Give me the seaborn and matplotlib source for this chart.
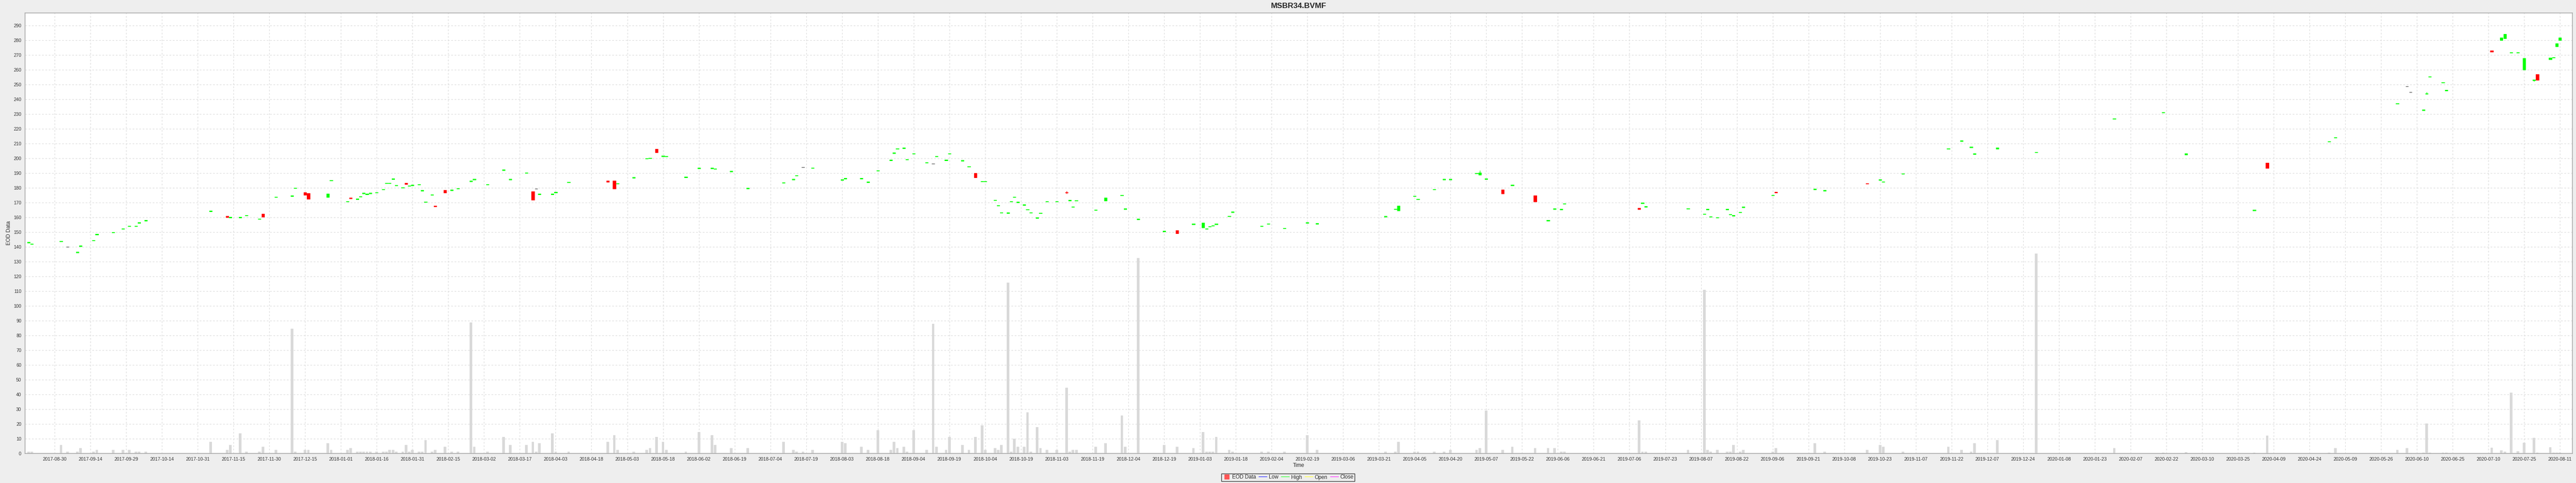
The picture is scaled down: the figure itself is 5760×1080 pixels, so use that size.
import numpy as np
import pandas as pd
import matplotlib
matplotlib.use("Agg")
import matplotlib.pyplot as plt
import seaborn as sns
from matplotlib.lines import Line2D

# ---- data: trading-day number (weekdays since 2017-08-30), OHLC, volume ----
day = [-8, -7, 2, 4, 7, 8, 12, 13, 18, 21, 23, 25, 26, 28, 48, 53, 54, 57, 59, 63,
       64, 68, 73, 74, 77, 78, 84, 85, 90, 91, 93, 94, 95, 96, 97, 99, 101, 102, 103, 104,
       105, 107, 108, 109, 110, 112, 113, 114, 116, 117, 120, 122, 124, 128, 129, 133, 138, 140, 145, 147,
       148, 149, 153, 154, 158, 170, 172, 173, 178, 182, 183, 185, 187, 188, 194, 198, 202, 203, 208, 213,
       224, 227, 228, 230, 233, 242, 243, 248, 250, 253, 257, 258, 259, 261, 262, 264, 268, 270, 271, 274,
       275, 279, 281, 283, 285, 286, 289, 290, 291, 293, 294, 295, 296, 298, 299, 300, 302, 303, 305, 308,
       311, 312, 313, 314, 320, 323, 328, 329, 333, 341, 345, 350, 353, 354, 355, 356, 357, 361, 362, 371,
       373, 378, 385, 388, 409, 412, 413, 418, 419, 424, 427, 429, 437, 438, 440, 445, 448, 455, 459, 461,
       463, 464, 487, 488, 489, 502, 507, 508, 509, 511, 514, 515, 516, 518, 519, 528, 529, 541, 544, 557,
       561, 562, 568, 582, 586, 589, 590, 597, 609, 633, 648, 655, 676, 680, 699, 701, 720, 723, 724, 728,
       729, 730, 734, 735, 749, 752, 753, 755, 757, 759, 762, 763, 767, 768, 769, 770]

open_ = [142.7, 141.7, 143.4, 139.8, 136.1, 140.3, 144.0, 148.2, 149.5, 152.0, 153.8, 153.8, 156.0, 157.5, 163.9, 160.9, 159.7, 159.7, 161.0, 158.6,
         162.3, 173.4, 174.2, 179.6, 176.9, 176.3, 173.6, 184.7, 170.4, 173.0, 172.1, 173.8, 176.1, 175.5, 176.1, 176.5, 178.6, 182.8, 182.8, 185.7,
         181.3, 179.8, 183.2, 181.1, 181.5, 181.9, 177.9, 170.2, 175.0, 167.5, 178.5, 178.2, 179.2, 184.2, 185.5, 181.9, 191.8, 185.5, 189.9, 177.5,
         179.2, 175.5, 175.5, 176.7, 183.4, 184.9, 184.9, 182.5, 186.7, 199.5, 199.9, 206.2, 201.2, 201.0, 187.0, 193.0, 193.0, 192.6, 190.9, 179.4,
         183.2, 185.5, 188.0, 193.8, 193.2, 185.1, 186.1, 186.1, 183.6, 191.4, 198.5, 203.3, 206.2, 206.7, 198.9, 202.9, 196.8, 196.4, 201.0, 198.5,
         202.9, 198.1, 194.1, 189.9, 184.0, 184.0, 171.3, 167.7, 162.9, 162.7, 170.4, 173.4, 170.0, 168.1, 165.0, 162.9, 159.4, 162.5, 170.4, 170.4,
         177.0, 171.2, 166.8, 171.0, 164.7, 171.0, 174.6, 165.4, 158.5, 150.3, 151.1, 155.1, 153.0, 152.0, 153.5, 154.1, 155.1, 160.4, 163.3, 153.7,
         155.3, 152.2, 156.1, 155.5, 160.3, 165.3, 164.3, 174.0, 171.9, 178.6, 185.5, 185.5, 189.5, 188.6, 185.7, 178.6, 181.5, 174.8, 157.6, 165.4,
         165.2, 168.9, 166.4, 169.3, 167.0, 165.6, 162.0, 165.1, 160.1, 159.5, 165.1, 161.6, 160.7, 163.1, 166.6, 174.6, 177.3, 178.8, 177.8, 182.9,
         185.1, 183.7, 189.2, 206.2, 211.5, 207.3, 202.7, 206.2, 203.8, 226.5, 230.7, 202.2, 164.5, 197.0, 211.0, 213.8, 236.8, 248.7, 244.7, 232.4,
         243.5, 255.0, 251.0, 245.8, 272.8, 279.9, 281.0, 271.4, 271.4, 259.8, 252.7, 256.9, 266.8, 268.0, 275.6, 279.9]

close = [143.1, 142.1, 143.8, 139.8, 136.5, 140.7, 144.4, 148.6, 149.9, 152.4, 154.2, 154.2, 156.4, 157.9, 164.3, 160.0, 160.1, 160.1, 161.4, 159.0,
         160.1, 173.8, 174.6, 180.0, 175.2, 172.4, 176.1, 185.1, 170.8, 172.7, 172.5, 174.2, 176.5, 175.9, 176.5, 176.9, 179.0, 183.2, 183.2, 186.1,
         181.7, 180.2, 182.4, 181.5, 181.9, 182.3, 178.3, 170.6, 175.4, 167.2, 176.6, 178.6, 179.6, 184.6, 185.9, 182.3, 192.2, 185.9, 190.3, 171.6,
         179.2, 175.9, 175.9, 177.1, 183.8, 183.8, 179.4, 182.9, 187.1, 199.9, 200.3, 203.9, 201.6, 201.4, 187.4, 193.4, 193.4, 193.0, 191.3, 179.8,
         183.6, 185.9, 188.4, 193.8, 193.6, 185.5, 186.5, 186.5, 184.0, 191.8, 198.9, 203.7, 206.6, 207.1, 199.3, 203.3, 197.2, 196.4, 201.4, 198.9,
         203.3, 198.5, 194.5, 187.0, 184.4, 184.4, 171.7, 168.1, 163.3, 163.1, 170.8, 173.8, 170.4, 168.5, 165.4, 163.3, 159.8, 162.9, 170.8, 170.8,
         176.5, 171.6, 167.2, 171.4, 165.1, 173.1, 175.0, 165.8, 158.9, 150.7, 149.0, 155.5, 156.2, 152.4, 153.9, 154.5, 155.5, 160.8, 163.7, 154.1,
         155.7, 152.6, 156.5, 155.9, 160.7, 165.7, 167.8, 174.4, 172.3, 179.0, 185.9, 185.9, 189.9, 190.3, 186.1, 176.1, 181.9, 170.6, 158.0, 165.8,
         165.6, 169.3, 165.3, 169.7, 167.4, 166.0, 162.4, 165.5, 160.5, 159.9, 165.5, 162.0, 161.3, 163.5, 167.0, 175.0, 176.7, 179.2, 178.2, 182.5,
         185.5, 184.1, 189.6, 206.6, 211.9, 207.7, 203.1, 207.3, 204.2, 226.9, 231.1, 203.1, 164.9, 193.2, 211.4, 214.2, 237.2, 248.7, 244.7, 232.8,
         243.9, 255.4, 251.4, 246.2, 271.9, 281.6, 284.3, 271.8, 271.8, 267.8, 253.1, 252.9, 268.2, 268.4, 277.7, 281.6]

high = [143.1, 142.1, 143.8, 139.8, 136.5, 140.7, 144.4, 148.6, 149.9, 152.4, 154.2, 154.2, 156.4, 157.9, 164.3, 160.9, 160.1, 160.1, 161.4, 159.0,
        162.3, 173.8, 174.6, 180.0, 176.9, 176.3, 176.1, 185.1, 170.8, 173.0, 172.5, 174.2, 176.5, 175.9, 176.5, 176.9, 179.0, 183.2, 183.2, 186.1,
        181.7, 180.2, 183.2, 181.5, 181.9, 182.3, 178.3, 170.6, 175.4, 167.5, 178.5, 178.6, 179.6, 184.6, 185.9, 182.3, 192.2, 185.9, 190.3, 177.5,
        179.2, 175.9, 175.9, 177.1, 183.8, 184.9, 184.9, 182.9, 187.1, 199.9, 200.3, 206.2, 201.6, 201.4, 187.4, 193.4, 193.4, 193.0, 191.3, 179.8,
        183.6, 185.9, 188.4, 193.8, 193.6, 185.5, 186.5, 186.5, 184.0, 191.8, 198.9, 203.7, 206.6, 207.1, 199.3, 203.3, 197.2, 196.4, 201.4, 198.9,
        203.3, 198.5, 194.5, 189.9, 184.4, 184.4, 171.7, 168.1, 163.3, 163.1, 170.8, 173.8, 170.4, 168.5, 165.4, 163.3, 159.8, 162.9, 170.8, 170.8,
        177.7, 171.6, 167.2, 171.4, 165.1, 173.1, 175.0, 165.8, 158.9, 150.7, 151.1, 155.5, 156.2, 152.4, 153.9, 154.5, 155.5, 160.8, 163.7, 154.1,
        155.7, 152.6, 156.5, 155.9, 160.7, 165.7, 167.8, 174.4, 172.3, 179.0, 185.9, 185.9, 189.9, 191.6, 186.1, 178.6, 181.9, 174.8, 158.0, 165.8,
        165.6, 169.3, 166.4, 169.7, 167.4, 166.0, 162.4, 165.5, 160.5, 159.9, 165.5, 162.0, 161.3, 163.5, 167.0, 175.0, 177.3, 179.2, 178.2, 182.9,
        185.5, 184.1, 189.6, 206.6, 211.9, 207.7, 203.1, 207.3, 204.2, 226.9, 231.1, 203.1, 164.9, 197.0, 211.4, 214.2, 237.2, 248.7, 244.7, 232.8,
        244.7, 255.4, 251.4, 246.2, 272.8, 281.6, 284.3, 271.8, 271.8, 267.8, 253.1, 256.9, 268.2, 268.4, 277.7, 281.6]

low = [142.7, 141.7, 143.4, 139.8, 136.1, 140.3, 144.0, 148.2, 149.5, 152.0, 153.8, 153.8, 156.0, 157.5, 163.9, 160.0, 159.7, 159.7, 161.0, 158.6,
       160.1, 173.4, 174.2, 179.6, 175.2, 172.4, 173.6, 184.7, 170.4, 172.7, 172.1, 173.8, 176.1, 175.5, 176.1, 176.5, 178.6, 182.8, 182.8, 185.7,
       181.3, 179.8, 182.4, 181.1, 181.5, 181.9, 177.9, 170.2, 175.0, 167.2, 176.6, 178.2, 179.2, 184.2, 185.5, 181.9, 191.8, 185.5, 189.9, 171.6,
       179.2, 175.5, 175.5, 176.7, 183.4, 183.8, 179.4, 182.5, 186.7, 199.5, 199.9, 203.9, 201.2, 201.0, 187.0, 193.0, 193.0, 192.6, 190.9, 179.4,
       183.2, 185.5, 188.0, 193.8, 193.2, 185.1, 186.1, 186.1, 183.6, 191.4, 198.5, 203.3, 206.2, 206.7, 198.9, 202.9, 196.8, 196.4, 201.0, 198.5,
       202.9, 198.1, 194.1, 187.0, 184.0, 184.0, 171.3, 167.7, 162.9, 162.7, 170.4, 173.4, 170.0, 168.1, 165.0, 162.9, 159.4, 162.5, 170.4, 170.4,
       176.1, 171.2, 166.8, 171.0, 164.7, 171.0, 174.6, 165.4, 158.5, 150.3, 149.0, 155.1, 153.0, 152.0, 153.5, 154.1, 155.1, 160.4, 163.3, 153.7,
       155.3, 152.2, 156.1, 155.5, 160.3, 165.3, 164.3, 174.0, 171.9, 178.6, 185.5, 185.5, 189.5, 188.6, 185.7, 176.1, 181.5, 170.6, 157.6, 165.4,
       165.2, 168.9, 165.3, 169.3, 167.0, 165.6, 162.0, 165.1, 160.1, 159.5, 165.1, 161.6, 160.7, 163.1, 166.6, 174.6, 176.7, 178.8, 177.8, 182.5,
       185.1, 183.7, 189.2, 206.2, 211.5, 207.3, 202.7, 206.2, 203.8, 226.5, 230.7, 202.2, 164.5, 193.2, 211.0, 213.8, 236.8, 248.7, 244.7, 232.4,
       243.1, 255.0, 251.0, 245.8, 271.9, 279.9, 281.0, 271.4, 271.4, 259.8, 252.0, 252.9, 266.8, 268.0, 275.6, 279.9]

volume = [1.0, 1.0, 5.7, 1.0, 1.0, 3.6, 1.0, 2.3, 2.3, 2.3, 2.3, 1.0, 1.0, 1.0, 7.8, 2.3, 5.7, 13.4, 1.0, 1.0,
          4.5, 2.3, 84.3, 1.0, 2.3, 2.3, 6.8, 2.3, 2.3, 3.5, 1.0, 1.0, 1.0, 1.0, 1.0, 1.0, 1.0, 1.0, 2.3, 2.3,
          1.0, 1.0, 5.7, 1.0, 2.3, 1.0, 1.0, 9.0, 1.0, 2.3, 4.5, 1.0, 1.0, 88.7, 4.5, 1.0, 11.2, 5.7, 5.7, 7.8,
          1.0, 6.8, 13.4, 1.0, 1.0, 7.8, 12.2, 2.3, 1.0, 2.3, 3.5, 11.2, 7.8, 2.3, 1.0, 14.5, 12.2, 5.7, 3.5, 3.5,
          7.8, 2.3, 1.0, 1.0, 2.3, 7.8, 6.8, 4.5, 2.3, 15.6, 2.3, 7.8, 3.5, 4.5, 1.0, 15.6, 2.3, 87.8, 4.5, 2.3,
          11.2, 5.7, 2.3, 11.2, 18.9, 2.3, 3.5, 2.3, 5.7, 115.5, 1.0, 10.0, 4.5, 4.5, 27.8, 1.0, 17.9, 3.5, 2.3, 2.3,
          44.5, 1.0, 2.3, 2.3, 4.5, 6.8, 25.5, 4.5, 132.2, 5.7, 4.5, 3.5, 14.5, 1.0, 1.0, 1.0, 11.2, 2.3, 1.0, 1.0,
          1.0, 1.0, 12.2, 2.3, 1.0, 1.0, 7.8, 1.0, 1.0, 1.0, 1.0, 2.3, 2.3, 3.5, 29.0, 2.3, 4.5, 3.5, 3.5, 3.5,
          1.0, 1.0, 22.3, 1.0, 1.0, 2.3, 110.9, 2.3, 1.0, 2.3, 1.0, 1.0, 5.7, 1.0, 2.3, 1.0, 3.5, 6.8, 1.0, 2.3,
          5.7, 4.5, 1.0, 4.5, 2.3, 1.0, 6.8, 9.0, 135.3, 3.5, 0.5, 0.7, 0.5, 12.0, 0.5, 3.5, 2.3, 3.5, 0.3, 0.5,
          20.2, 0.5, 0.5, 0.5, 3.8, 2.1, 1.0, 41.1, 1.3, 7.2, 10.5, 0.5, 4.2, 0.5, 0.5, 0.5]

tick_labels = ["2017-08-30", "2017-09-14", "2017-09-29", "2017-10-14", "2017-10-31", "2017-11-15",
               "2017-11-30", "2017-12-15", "2018-01-01", "2018-01-16", "2018-01-31", "2018-02-15",
               "2018-03-02", "2018-03-17", "2018-04-03", "2018-04-18", "2018-05-03", "2018-05-18",
               "2018-06-02", "2018-06-19", "2018-07-04", "2018-07-19", "2018-08-03", "2018-08-18",
               "2018-09-04", "2018-09-19", "2018-10-04", "2018-10-19", "2018-11-03", "2018-11-19",
               "2018-12-04", "2018-12-19", "2019-01-03", "2019-01-18", "2019-02-04", "2019-02-19",
               "2019-03-06", "2019-03-21", "2019-04-05", "2019-04-20", "2019-05-07", "2019-05-22",
               "2019-06-06", "2019-06-21", "2019-07-06", "2019-07-23", "2019-08-07", "2019-08-22",
               "2019-09-06", "2019-09-21", "2019-10-08", "2019-10-23", "2019-11-07", "2019-11-22",
               "2019-12-07", "2019-12-24", "2020-01-08", "2020-01-23", "2020-02-07", "2020-02-22",
               "2020-03-10", "2020-03-25", "2020-04-09", "2020-04-24", "2020-05-09", "2020-05-26",
               "2020-06-10", "2020-06-25", "2020-07-10", "2020-07-25", "2020-08-11"]
tick_step = 11  # trading days between labelled ticks

# ---- styling ----
sns.set_style("white")
plt.rcParams['font.family'] = ['Liberation Sans', 'DejaVu Sans']

W, H = 5760, 1080
fig = plt.figure(figsize=(W / 100, H / 100), dpi=100, facecolor='#EEEEEE')
L, R, T, B = 56, 5752, 29, 1013.6
ax = fig.add_axes([L / W, (H - B) / H, (R - L) / W, (B - T) / H])
ax.set_facecolor('white')

df = pd.DataFrame(dict(day=day, open=open_, high=high, low=low, close=close, volume=volume))

# volume bars
sns.barplot(data=df, x='day', y='volume', native_scale=True, color='#D9D9D9',
            saturation=1, width=0.8, errorbar=None, linewidth=0, ax=ax, zorder=2)

# candles
cw = 0.85
up = df.close > df.open
down = df.close < df.open
flat = df.close == df.open
for mask, col in ((up, '#00FF00'), (down, '#FF0000')):
    sub = df[mask]
    ax.vlines(sub.day, sub.low, sub.high, color=col, lw=1.0, zorder=3)
    h = np.maximum((sub.close - sub.open).abs(), 0.45)
    b = np.minimum(sub.open, sub.close)
    ax.bar(sub.day, h, bottom=b, width=cw, color=col, linewidth=0.6,
           edgecolor=col, zorder=4)
sub = df[flat]
ax.hlines(sub.close, sub.day - cw / 2, sub.day + cw / 2, color='#555555', lw=1.0, zorder=4)

# axes
ax.set_xlim(-9.07, 773.8)
ax.set_ylim(0, 298.4)
ax.set_yticks(np.arange(0, 291, 10))
ax.set_xticks(np.arange(len(tick_labels)) * tick_step)
ax.set_xticklabels(tick_labels)
ax.set_xlabel('')
ax.set_ylabel('')
ax.set_axisbelow(True)
ax.grid(True, color='#DADADA', linestyle=(0, (3, 3)), linewidth=0.9)
ax.tick_params(axis='both', labelsize=7.6, labelcolor='#333333', length=3,
               width=0.8, color='#888888', direction='out', pad=3)
for s in ax.spines.values():
    s.set_color('#A8A8A8')
    s.set_linewidth(1.2)

fig.text(2904 / W, 1 - 13 / H, 'MSBR34.BVMF', ha='center', va='center',
         fontsize=12.5, fontweight='bold')
fig.text(2904 / W, 1 - 1041 / H, 'Time', ha='center', va='center', fontsize=8.6)
fig.text(20 / W, 1 - 521 / H, 'EOD Data', ha='center', va='center', rotation=90, fontsize=8.6)

handles = [Line2D([], [], marker='s', linestyle='none', markersize=7, color='#FF5555'),
           Line2D([], [], color='#5555FF', lw=1.2),
           Line2D([], [], color='#55FF55', lw=1.2),
           Line2D([], [], color='#FFFF55', lw=1.2),
           Line2D([], [], color='#FF55FF', lw=1.2)]
leg = fig.legend(handles, ['EOD Data', 'Low', 'High', 'Open', 'Close'], loc='center',
                 bbox_to_anchor=(2880 / W, 1 - 1067.5 / H), ncol=5, frameon=True,
                 fontsize=8.5, fancybox=False, edgecolor='black', facecolor='#EEEEEE',
                 handlelength=1.5, handletextpad=0.3, columnspacing=0.6, borderpad=0.25)
leg.get_frame().set_linewidth(1.0)

fig.savefig('out.png', dpi=100, facecolor=fig.get_facecolor())
